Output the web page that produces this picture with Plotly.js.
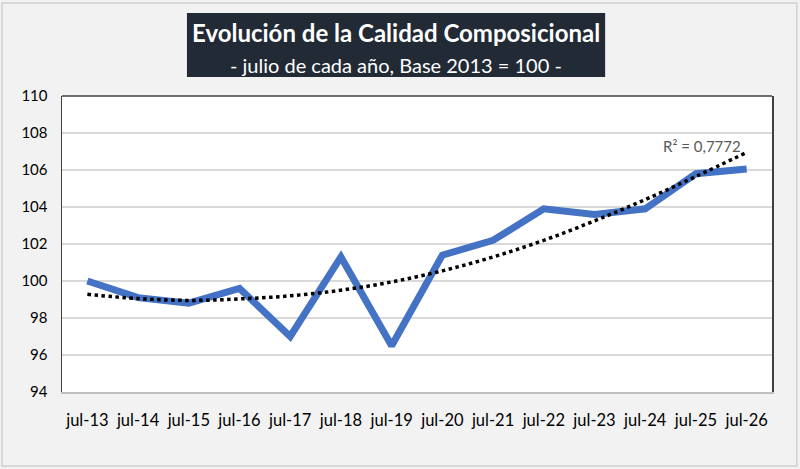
<!DOCTYPE html>
<html><head><meta charset="utf-8">
<script src="https://cdn.plot.ly/plotly-3.0.1.min.js"></script>
<style>html,body{margin:0;padding:0;background:#f2f2f2;}#chart{width:800px;height:469px;}</style>
</head><body><div id="chart"></div>
<script>
const categories = ['jul-13','jul-14','jul-15','jul-16','jul-17','jul-18','jul-19','jul-20','jul-21','jul-22','jul-23','jul-24','jul-25','jul-26'];
const calidad = [100.0, 99.1, 98.8, 99.6, 97.0, 101.3, 96.5, 101.4, 102.2, 103.9, 103.6, 103.9, 105.8, 106.05];
const tendencia = [99.28, 99.05, 98.95, 99.03, 99.2, 99.5, 99.95, 100.55, 101.3, 102.2, 103.25, 104.4, 105.65, 106.95];
const yTicks = [94, 96, 98, 100, 102, 104, 106, 108, 110];
const titleMain = 'Evolución de la Calidad Composicional';
const titleSub = '- julio de cada año, Base 2013 = 100 -';
const r2Label = 'R² = 0,7772';

const font = 'Lato, "Open Sans", sans-serif';
const traces = [
  {x: categories, y: calidad, type: 'scatter', mode: 'lines',
   line: {color: '#4472c4', width: 7}, hoverinfo: 'skip'},
  {x: categories, y: tendencia, type: 'scatter', mode: 'lines',
   line: {color: '#000000', width: 3.5, dash: 'dot', shape: 'spline'}, hoverinfo: 'skip'}
];
const layout = {
  width: 800, height: 469,
  margin: {l: 62, r: 28, t: 96, b: 77},
  paper_bgcolor: '#f2f2f2', plot_bgcolor: '#ffffff',
  showlegend: false,
  font: {family: font, size: 14, color: '#000000'},
  xaxis: {type: 'category', range: [-0.5, 13.5], showgrid: false, zeroline: false,
          showline: true, mirror: false, linecolor: '#bfbfbf', linewidth: 2,
          ticks: '', tickfont: {size: 16.5, color: '#000'}, ticklabelstandoff: 12},
  yaxis: {range: [94, 110], tickvals: yTicks, showgrid: true, gridcolor: '#d9d9d9', gridwidth: 1.5,
          zeroline: false, showline: true, mirror: true, linecolor: '#404040', linewidth: 1.5,
          ticks: '', tickfont: {size: 15, color: '#000'}, ticklabelstandoff: 10},
  shapes: [
    {type: 'rect', xref: 'paper', yref: 'paper', x0: -0.0845, x1: 1.035, y0: -0.25, y1: 1.314,
     line: {color: '#d0d0d0', width: 1.5}, fillcolor: 'rgba(0,0,0,0)', layer: 'below'},
    {type: 'line', xref: 'paper', yref: 'paper', x0: 0, x1: 1, y0: 1, y1: 1,
     line: {color: '#404040', width: 1.5}, layer: 'above'},
    {type: 'rect', xref: 'paper', yref: 'paper', x0: 0.176, x1: 0.765, y0: 1.064, y1: 1.280,
     line: {color: '#1f2a38', width: 0}, fillcolor: '#222a35', layer: 'above'}
  ],
  annotations: [
    {xref: 'paper', yref: 'paper', x: 0.4705, y: 1.2145, text: '<b>' + titleMain + '</b>', showarrow: false,
     font: {family: font, size: 24, color: '#ffffff'}, xanchor: 'center', yanchor: 'middle'},
    {xref: 'paper', yref: 'paper', x: 0.4705, y: 1.105, text: titleSub, showarrow: false,
     font: {family: font, size: 20, color: '#ffffff'}, xanchor: 'center', yanchor: 'middle'},
    {xref: 'paper', yref: 'paper', x: 0.902, y: 0.831, text: r2Label, showarrow: false,
     font: {family: font, size: 15, color: '#595959'}, xanchor: 'center', yanchor: 'middle'}
  ]
};
Plotly.newPlot('chart', traces, layout, {staticPlot: true, displayModeBar: false});
</script></body></html>
